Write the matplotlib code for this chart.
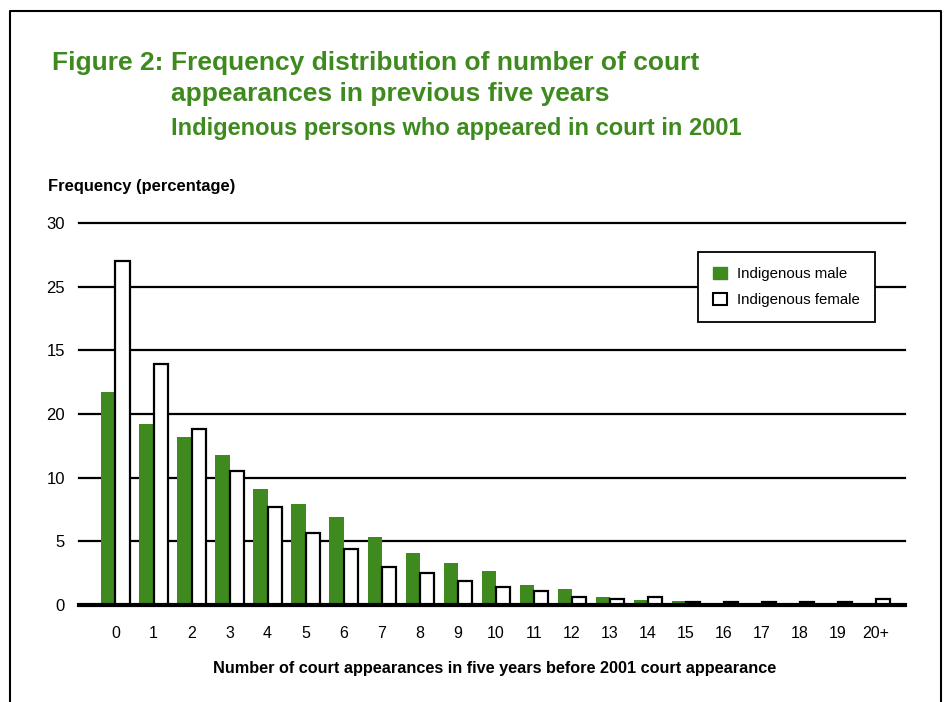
import matplotlib.pyplot as plt
import numpy as np
from matplotlib.lines import Line2D
from matplotlib.patches import Patch

plt.rcParams['font.family'] = ['Liberation Sans', 'DejaVu Sans']

categories = ['0', '1', '2', '3', '4', '5', '6', '7', '8', '9', '10',
              '11', '12', '13', '14', '15', '16', '17', '18', '19', '20+']
male = [16.75, 14.2, 13.2, 11.8, 9.1, 7.9, 6.95, 5.35, 4.1, 3.3, 2.7,
        1.57, 1.26, 0.63, 0.4, 0.35, 0, 0, 0, 0, 0]
female = [27.0, 18.9, 13.8, 10.5, 7.7, 5.65, 4.4, 2.97, 2.5, 1.87, 1.4,
          1.08, 0.63, 0.45, 0.6, 0.25, 0.25, 0.25, 0.25, 0.25, 0.45]
ytick_vals = [0, 5, 10, 15, 20, 25, 30]
ytick_labels = ['0', '5', '10', '20', '15', '25', '30']

green = '#3e8a1e'
W, H = 946, 702
fig = plt.figure(figsize=(W / 100, H / 100), dpi=100)

# axes placed in pixel coords: x 79..905, y 223..605
ax = fig.add_axes([79 / W, 1 - 605 / H, (905 - 79) / W, (605 - 223) / H])

x = np.arange(len(categories))
bw = 0.37
ax.bar(x - bw / 2, male, bw, color=green, zorder=3, label='Indigenous male')
ax.bar(x + bw / 2, female, bw, facecolor='white', edgecolor='black',
       linewidth=1.6, zorder=3, label='Indigenous female')

ax.set_xlim(-0.96, 20.77)
ax.set_ylim(0, 30)
ax.set_yticks(ytick_vals)
ax.set_yticklabels(ytick_labels, fontsize=12)
ax.set_xticks(x)
ax.set_xticklabels(categories, fontsize=11.5)
ax.tick_params(length=0)
ax.tick_params(axis='x', pad=15)
ax.tick_params(axis='y', pad=10)
for v in ytick_vals[1:]:
    ax.axhline(v, color='black', linewidth=1.6, zorder=1, clip_on=False)
ax.axhline(0, color='black', linewidth=3, zorder=4, clip_on=False)
for s in ax.spines.values():
    s.set_visible(False)

handles = [Patch(facecolor=green, edgecolor=green),
           Patch(facecolor='white', edgecolor='black', linewidth=1.5)]
leg = ax.legend(handles, ['Indigenous male', 'Indigenous female'],
                loc='upper left', bbox_to_anchor=((698 - 79) / 826, 1 - (252 - 223) / 382),
                fontsize=10.8, frameon=True, fancybox=False, framealpha=1,
                borderpad=1.0, handlelength=0.9, handleheight=0.9,
                labelspacing=0.75, handletextpad=0.7, borderaxespad=0)
leg.get_frame().set_edgecolor('black')
leg.get_frame().set_linewidth(1.3)
leg.set_zorder(5)

fig.text(52 / W, 1 - 63 / H, 'Figure 2:', color=green, fontsize=19,
         fontweight='bold', va='center', ha='left')
fig.text(171 / W, 1 - 63 / H, 'Frequency distribution of number of court',
         color=green, fontsize=19, fontweight='bold', va='center', ha='left')
fig.text(171 / W, 1 - 94 / H, 'appearances in previous five years',
         color=green, fontsize=19, fontweight='bold', va='center', ha='left')
fig.text(171 / W, 1 - 129 / H, 'Indigenous persons who appeared in court in 2001',
         color=green, fontsize=17, fontweight='bold', va='center', ha='left')
fig.text(48 / W, 1 - 186 / H, 'Frequency (percentage)', fontsize=11.9,
         fontweight='bold', va='center', ha='left')
fig.text(495 / W, 1 - 669 / H,
         'Number of court appearances in five years before 2001 court appearance',
         fontsize=11.7, fontweight='bold', va='center', ha='center')

# outer border (left, top, right)
fig.add_artist(Line2D([10 / W, 10 / W, 941 / W, 941 / W],
                      [0, 1 - 11 / H, 1 - 11 / H, 0],
                      transform=fig.transFigure, color='black', linewidth=1.5))

fig.savefig('out.png', dpi=100)
